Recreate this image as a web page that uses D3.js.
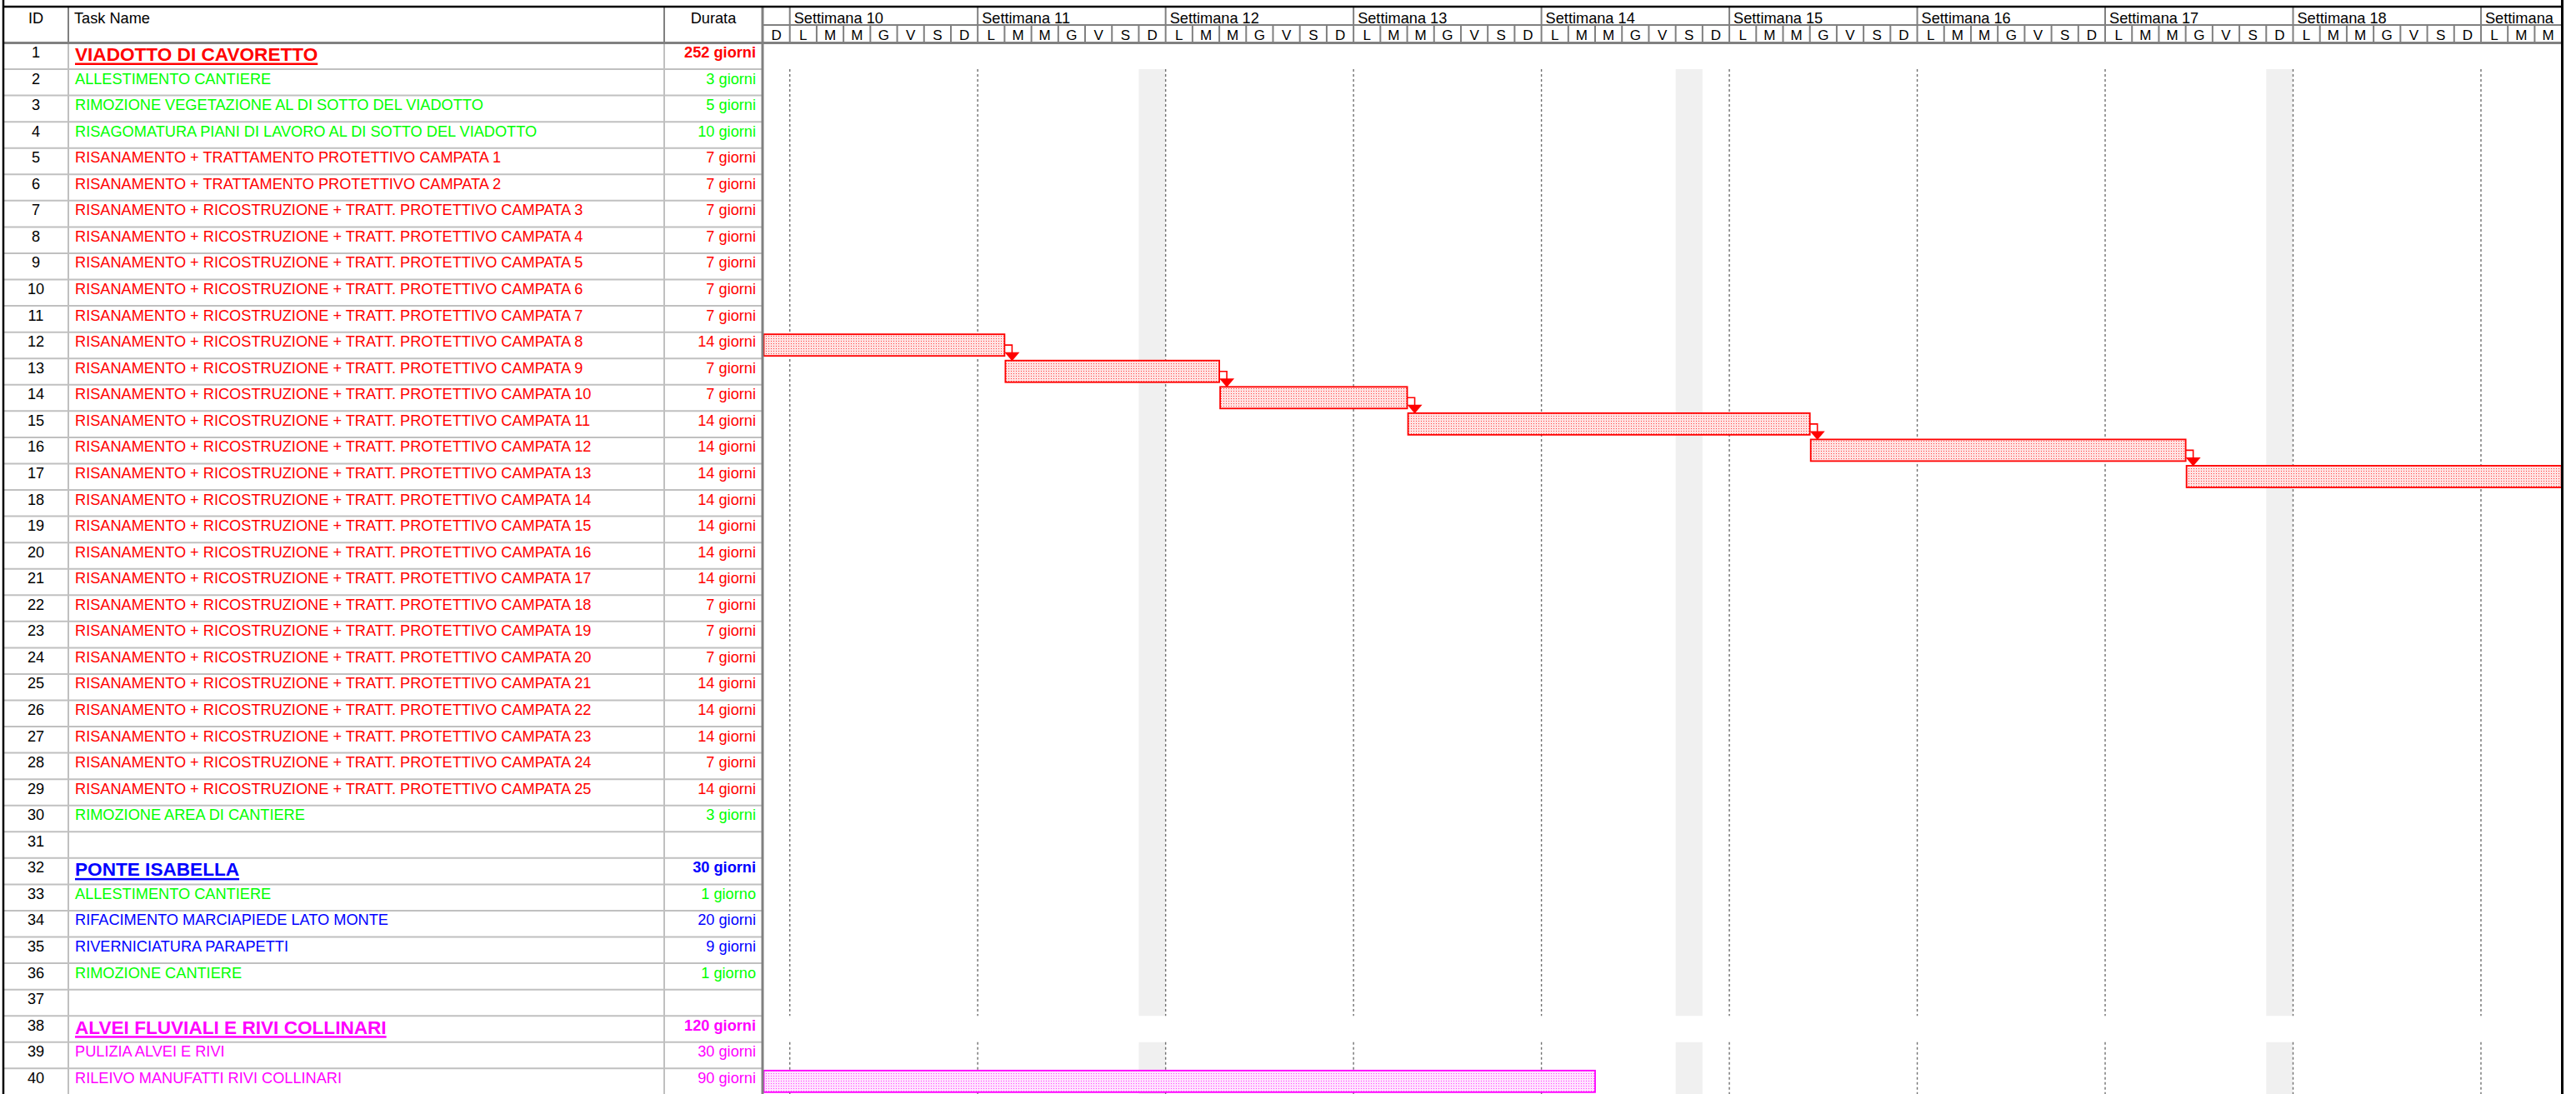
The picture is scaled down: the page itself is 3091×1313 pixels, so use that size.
<!DOCTYPE html>
<html>
<head>
<meta charset="utf-8">
<script src="https://cdn.jsdelivr.net/npm/d3@7"></script>
<style>
  body { margin: 0; background: #fff; }
  text { font-family: "Liberation Sans", Arial, sans-serif; }
</style>
</head>
<body>
<script>
// Task table, one entry per row (ID = index + 1)
var taskNames = [
  "VIADOTTO DI CAVORETTO",
  "ALLESTIMENTO CANTIERE",
  "RIMOZIONE VEGETAZIONE AL DI SOTTO DEL VIADOTTO",
  "RISAGOMATURA PIANI DI LAVORO AL DI SOTTO DEL VIADOTTO",
  "RISANAMENTO + TRATTAMENTO PROTETTIVO CAMPATA 1",
  "RISANAMENTO + TRATTAMENTO PROTETTIVO CAMPATA 2",
  "RISANAMENTO + RICOSTRUZIONE + TRATT. PROTETTIVO CAMPATA 3",
  "RISANAMENTO + RICOSTRUZIONE + TRATT. PROTETTIVO CAMPATA 4",
  "RISANAMENTO + RICOSTRUZIONE + TRATT. PROTETTIVO CAMPATA 5",
  "RISANAMENTO + RICOSTRUZIONE + TRATT. PROTETTIVO CAMPATA 6",
  "RISANAMENTO + RICOSTRUZIONE + TRATT. PROTETTIVO CAMPATA 7",
  "RISANAMENTO + RICOSTRUZIONE + TRATT. PROTETTIVO CAMPATA 8",
  "RISANAMENTO + RICOSTRUZIONE + TRATT. PROTETTIVO CAMPATA 9",
  "RISANAMENTO + RICOSTRUZIONE + TRATT. PROTETTIVO CAMPATA 10",
  "RISANAMENTO + RICOSTRUZIONE + TRATT. PROTETTIVO CAMPATA 11",
  "RISANAMENTO + RICOSTRUZIONE + TRATT. PROTETTIVO CAMPATA 12",
  "RISANAMENTO + RICOSTRUZIONE + TRATT. PROTETTIVO CAMPATA 13",
  "RISANAMENTO + RICOSTRUZIONE + TRATT. PROTETTIVO CAMPATA 14",
  "RISANAMENTO + RICOSTRUZIONE + TRATT. PROTETTIVO CAMPATA 15",
  "RISANAMENTO + RICOSTRUZIONE + TRATT. PROTETTIVO CAMPATA 16",
  "RISANAMENTO + RICOSTRUZIONE + TRATT. PROTETTIVO CAMPATA 17",
  "RISANAMENTO + RICOSTRUZIONE + TRATT. PROTETTIVO CAMPATA 18",
  "RISANAMENTO + RICOSTRUZIONE + TRATT. PROTETTIVO CAMPATA 19",
  "RISANAMENTO + RICOSTRUZIONE + TRATT. PROTETTIVO CAMPATA 20",
  "RISANAMENTO + RICOSTRUZIONE + TRATT. PROTETTIVO CAMPATA 21",
  "RISANAMENTO + RICOSTRUZIONE + TRATT. PROTETTIVO CAMPATA 22",
  "RISANAMENTO + RICOSTRUZIONE + TRATT. PROTETTIVO CAMPATA 23",
  "RISANAMENTO + RICOSTRUZIONE + TRATT. PROTETTIVO CAMPATA 24",
  "RISANAMENTO + RICOSTRUZIONE + TRATT. PROTETTIVO CAMPATA 25",
  "RIMOZIONE AREA DI CANTIERE",
  "",
  "PONTE ISABELLA",
  "ALLESTIMENTO CANTIERE",
  "RIFACIMENTO MARCIAPIEDE LATO MONTE",
  "RIVERNICIATURA PARAPETTI",
  "RIMOZIONE CANTIERE",
  "",
  "ALVEI FLUVIALI E RIVI COLLINARI",
  "PULIZIA ALVEI E RIVI",
  "RILEIVO MANUFATTI RIVI COLLINARI"
];

var durations = [
  "252 giorni", "3 giorni", "5 giorni", "10 giorni",
  "7 giorni", "7 giorni", "7 giorni", "7 giorni", "7 giorni", "7 giorni", "7 giorni",
  "14 giorni", "7 giorni", "7 giorni",
  "14 giorni", "14 giorni", "14 giorni", "14 giorni", "14 giorni", "14 giorni", "14 giorni",
  "7 giorni", "7 giorni", "7 giorni",
  "14 giorni", "14 giorni", "14 giorni", "7 giorni", "14 giorni",
  "3 giorni", "",
  "30 giorni", "1 giorno", "20 giorni", "9 giorni", "1 giorno", "",
  "120 giorni", "30 giorni", "90 giorni"
];

// r = red, g = green, b = blue, m = magenta, "" = empty row
var taskGroup = [
  "r", "g", "g", "g",
  "r", "r", "r", "r", "r", "r", "r", "r", "r", "r", "r", "r", "r", "r", "r", "r",
  "r", "r", "r", "r", "r", "r", "r", "r", "r",
  "g", "",
  "b", "g", "b", "b", "g", "",
  "m", "m", "m"
];

var summaryRows = [1, 32, 38];

// timescale: day 0 is the Sunday before "Settimana 10"
var weekLabels = ["Settimana 10", "Settimana 11", "Settimana 12", "Settimana 13", "Settimana 14",
                  "Settimana 15", "Settimana 16", "Settimana 17", "Settimana 18", "Settimana"];
var dayLetters = ["D", "L", "M", "M", "G", "V", "S"];
var nonWorkingDays = [14, 34, 56];
var gapRows = [1, 38];   // rows where the gridlines of the timeline are interrupted

// visible bars: task row, start day, finish day
var barTask  = [12, 13, 14, 15, 16, 17, 40];
var barStart = [-5, 9, 17, 24, 39, 53, -62];
var barEnd   = [9, 17, 24, 39, 53, 68, 31];

// finish-to-start links
var linkFrom = [12, 13, 14, 15, 16];
var linkTo   = [13, 14, 15, 16, 17];

var colours = { r: "#ff0000", g: "#00ff00", b: "#0000ff", m: "#ff00ff" };

var width = 3091, height = 1313;
var nDays = 67;
var fs = 18.2;

var x = d3.scaleLinear().domain([0, nDays]).range([915.5, 3073.6]);
var xc = x.copy().clamp(true);
var y = d3.scaleLinear().domain([1, 41]).range([51.5, 51.5 + 40 * 31.56]);

var svg = d3.select('body').append('svg')
  .attr('width', width)
  .attr('height', height);

var defs = svg.append('defs');
function dotPattern(id, bg, dot) {
  var p = defs.append('pattern').attr('id', id)
    .attr('width', 3).attr('height', 3)
    .attr('patternUnits', 'userSpaceOnUse');
  p.append('rect').attr('width', 3).attr('height', 3).attr('fill', bg);
  p.append('rect').attr('x', 1).attr('y', 1).attr('width', 1).attr('height', 1).attr('fill', dot);
}
dotPattern('dots-r', '#ffe2e2', '#ff4040');
dotPattern('dots-m', '#ffe2ff', '#ff40ff');

// vertical segments of the timeline body, skipping the gap rows
var segs = [], segStart = null;
for (var r = 2; r <= 41; r++) {
  var isGap = gapRows.indexOf(r) >= 0;
  if (!isGap && segStart === null) segStart = r;
  if ((isGap || r === 41) && segStart !== null) {
    segs.push([y(segStart), r === 41 ? height : y(r)]);
    segStart = null;
  }
}

var body = svg.append('g');

// non-working days
nonWorkingDays.forEach(function(d) {
  body.selectAll(null).data(segs).enter().append('rect')
    .attr('x', x(d)).attr('width', x(d + 1) - x(d))
    .attr('y', function(s) { return s[0]; })
    .attr('height', function(s) { return s[1] - s[0]; })
    .attr('fill', '#f0f0f0');
});

// dotted week lines
var weekStarts = weekLabels.map(function(l, i) { return 1 + 7 * i; });
weekStarts.forEach(function(d) {
  body.selectAll(null).data(segs).enter().append('line')
    .attr('x1', x(d)).attr('x2', x(d))
    .attr('y1', function(s) { return s[0]; })
    .attr('y2', function(s) { return s[1]; })
    .attr('stroke', '#707070')
    .attr('stroke-width', 1.4)
    .attr('stroke-dasharray', '3,3');
});

// bars
var bars = barTask.map(function(t, i) { return { task: t, start: barStart[i], end: barEnd[i] }; });
body.selectAll('rect.bar').data(bars).enter().append('rect')
  .attr('class', 'bar')
  .attr('x', function(d) { return xc(d.start) + 1; })
  .attr('width', function(d) { return xc(d.end) - xc(d.start) - 1; })
  .attr('y', function(d) { return y(d.task) + 2.5; })
  .attr('height', 26)
  .attr('fill', function(d) { return 'url(#dots-' + taskGroup[d.task - 1] + ')'; })
  .attr('stroke', function(d) { return colours[taskGroup[d.task - 1]]; })
  .attr('stroke-width', 1.8);

// links
var links = linkFrom.map(function(f, i) {
  return { from: f, to: linkTo[i], at: barEnd[barTask.indexOf(f)] };
});
links.forEach(function(l) {
  var xe = x(l.at), ym = y(l.from) + 15.5, yt = y(l.to) + 2.5;
  var c = colours[taskGroup[l.from - 1]];
  body.append('path')
    .attr('d', 'M' + xe + ',' + ym + 'H' + (xe + 9) + 'V' + (yt - 9))
    .attr('fill', 'none').attr('stroke', c).attr('stroke-width', 1.6);
  body.append('path')
    .attr('d', 'M' + xe + ',' + (yt - 10) + 'L' + (xe + 18) + ',' + (yt - 10) + 'L' + (xe + 9) + ',' + (yt + 0.5) + 'Z')
    .attr('fill', c);
});

// table body
var table = svg.append('g');
var rows = d3.range(1, 41);

table.selectAll('line.row').data(rows).enter().append('line')
  .attr('x1', 4).attr('x2', 915)
  .attr('y1', function(i) { return y(i + 1); })
  .attr('y2', function(i) { return y(i + 1); })
  .attr('stroke', '#c0c0c0').attr('stroke-width', 2);

[82, 797].forEach(function(cx) {
  table.append('line').attr('x1', cx).attr('x2', cx).attr('y1', 51).attr('y2', height)
    .attr('stroke', '#c0c0c0').attr('stroke-width', 2);
});

table.selectAll('text.id').data(rows).enter().append('text')
  .attr('x', 43).attr('y', function(i) { return y(i) + 17.5; })
  .attr('text-anchor', 'middle')
  .attr('font-size', fs)
  .attr('fill', '#000')
  .text(function(i) { return i; });

rows.forEach(function(i) {
  var name = taskNames[i - 1];
  if (!name) return;
  var c = colours[taskGroup[i - 1]];
  var isSum = summaryRows.indexOf(i) >= 0;
  var t = table.append('text')
    .attr('x', 90)
    .attr('y', y(i) + (isSum ? 21.5 : 17.5))
    .attr('font-size', isSum ? 22.6 : fs)
    .attr('font-weight', isSum ? 'bold' : 'normal')
    .attr('fill', c)
    .text(name);
  if (isSum) {
    var w = t.node().getComputedTextLength();
    table.append('rect').attr('x', 90).attr('y', y(i) + 24)
      .attr('width', w).attr('height', 2.5).attr('fill', c);
  }
  table.append('text')
    .attr('x', 907)
    .attr('y', y(i) + 17.5)
    .attr('text-anchor', 'end')
    .attr('font-size', fs)
    .attr('font-weight', isSum ? 'bold' : 'normal')
    .attr('fill', c)
    .text(durations[i - 1]);
});

table.append('line').attr('x1', 915).attr('x2', 915).attr('y1', 9).attr('y2', height)
  .attr('stroke', '#808080').attr('stroke-width', 3);

// header
var head = svg.append('g');
[82, 797].forEach(function(cx) {
  head.append('line').attr('x1', cx).attr('x2', cx).attr('y1', 9).attr('y2', 51)
    .attr('stroke', '#808080').attr('stroke-width', 2);
});
head.append('line').attr('x1', 915).attr('x2', 3074).attr('y1', 30).attr('y2', 30)
  .attr('stroke', '#808080').attr('stroke-width', 2);

var days = d3.range(0, nDays);
head.selectAll('line.day').data(days.filter(function(d) { return d > 0; })).enter().append('line')
  .attr('x1', function(d) { return x(d); })
  .attr('x2', function(d) { return x(d); })
  .attr('y1', function(d) { return (d - 1) % 7 === 0 ? 9 : 30; })
  .attr('y2', 51)
  .attr('stroke', '#808080').attr('stroke-width', 2);

head.append('line').attr('x1', 4).attr('x2', 3074).attr('y1', 51.5).attr('y2', 51.5)
  .attr('stroke', '#808080').attr('stroke-width', 3);

head.append('text').attr('x', 43).attr('y', 28).attr('text-anchor', 'middle')
  .attr('font-size', fs).text('ID');
head.append('text').attr('x', 89).attr('y', 28)
  .attr('font-size', fs).text('Task Name');
head.append('text').attr('x', 856).attr('y', 28).attr('text-anchor', 'middle')
  .attr('font-size', fs).text('Durata');

head.selectAll('text.week').data(weekLabels).enter().append('text')
  .attr('x', function(l, i) { return x(weekStarts[i]) + 5; })
  .attr('y', 27.5)
  .attr('font-size', fs)
  .text(function(l) { return l; });

head.selectAll('text.day').data(days).enter().append('text')
  .attr('x', function(d) { return (x(d) + x(d + 1)) / 2; })
  .attr('y', 48)
  .attr('text-anchor', 'middle')
  .attr('font-size', 17)
  .text(function(d) { return dayLetters[d % 7]; });

// outer frame
svg.append('line').attr('x1', 4).attr('x2', 4).attr('y1', 0).attr('y2', height)
  .attr('stroke', '#000').attr('stroke-width', 2.5);
svg.append('line').attr('x1', 3).attr('x2', 3076).attr('y1', 8).attr('y2', 8)
  .attr('stroke', '#000').attr('stroke-width', 2.5);
svg.append('line').attr('x1', 3074.5).attr('x2', 3074.5).attr('y1', 0).attr('y2', height)
  .attr('stroke', '#000').attr('stroke-width', 3);
</script>
</body>
</html>
